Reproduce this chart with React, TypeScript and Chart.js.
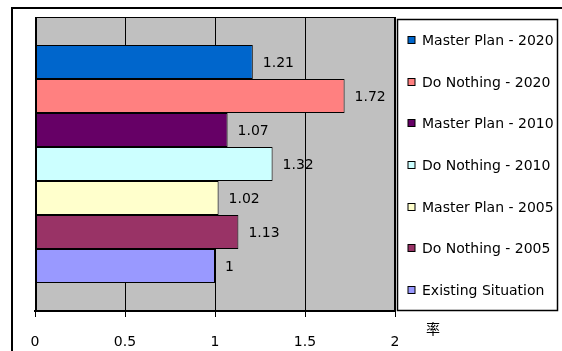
import React, { useEffect, useRef } from "react";
import { Chart, registerables } from "chart.js";

Chart.register(...registerables);

// Scenario bars, listed top to bottom
const categories = [""];
const seriesNames = [
  "Master Plan - 2020",
  "Do Nothing - 2020",
  "Master Plan - 2010",
  "Do Nothing - 2010",
  "Master Plan - 2005",
  "Do Nothing - 2005",
  "Existing Situation",
];
const seriesValues = [1.21, 1.72, 1.07, 1.32, 1.02, 1.13, 1];
const seriesColors = ["#0066CC", "#FF8080", "#660066", "#CCFFFF", "#FFFFCC", "#993366", "#9999FF"];
const xMin = 0;
const xMax = 2;
const xStep = 0.5;
const axisTitle = "率";

const FONT = "'DejaVu Sans', sans-serif";

const framePlugin = {
  id: "frame",
  beforeDraw(chart: any) {
    const { ctx, chartArea: a, width, height } = chart;
    ctx.save();
    ctx.fillStyle = "#FFFFFF";
    ctx.fillRect(0, 0, width, height);
    // outer chart border
    ctx.strokeStyle = "#000000";
    ctx.lineWidth = 2;
    ctx.strokeRect(12, 8, width + 20, height + 20);
    // plot area background
    ctx.fillStyle = "#C0C0C0";
    ctx.fillRect(a.left, a.top, a.right - a.left, a.bottom - a.top);
    ctx.restore();
  },
  afterDraw(chart: any) {
    const { ctx, chartArea: a } = chart;
    ctx.save();
    // plot area border
    ctx.strokeStyle = "#000000";
    ctx.lineWidth = 1;
    ctx.beginPath();
    ctx.moveTo(a.left, a.top + 0.5);
    ctx.lineTo(a.right, a.top + 0.5);
    ctx.stroke();
    ctx.lineWidth = 2;
    ctx.beginPath();
    ctx.moveTo(a.left + 1, a.top);
    ctx.lineTo(a.left + 1, a.bottom);
    ctx.moveTo(a.right, a.top);
    ctx.lineTo(a.right, a.bottom);
    ctx.stroke();

    // value labels beside each bar
    ctx.fillStyle = "#000000";
    ctx.font = `14px ${FONT}`;
    ctx.textBaseline = "middle";
    ctx.textAlign = "left";
    chart.data.datasets.forEach((ds: any, i: number) => {
      const meta = chart.getDatasetMeta(i);
      const el = meta.data[0];
      if (!el) return;
      ctx.fillText(String(ds.data[0]), el.x + 10, el.y + 1);
    });

    // legend box
    const lx = 397.5;
    const ly = 19.5;
    const lw = 160;
    const lh = 291;
    ctx.fillStyle = "#FFFFFF";
    ctx.fillRect(lx, ly, lw, lh);
    ctx.strokeStyle = "#000000";
    ctx.lineWidth = 1.5;
    ctx.strokeRect(lx, ly, lw, lh);
    const step = lh / chart.data.datasets.length;
    chart.data.datasets.forEach((ds: any, i: number) => {
      const cy = Math.round(ly + step * (i + 0.5)) + 0.5;
      ctx.fillStyle = ds.backgroundColor;
      ctx.fillRect(408, cy - 4, 7, 7);
      ctx.lineWidth = 1;
      ctx.strokeStyle = "#000000";
      ctx.strokeRect(408, cy - 4, 7, 7);
      ctx.fillStyle = "#000000";
      ctx.font = `14px ${FONT}`;
      ctx.textBaseline = "middle";
      ctx.fillText(ds.label, 422, cy + 0.5);
    });

    // axis title
    ctx.font = `14px 'Noto Sans CJK SC', sans-serif`;
    ctx.textAlign = "center";
    ctx.fillText(axisTitle, 433, 329);
    ctx.restore();
  },
};

export default function App() {
  const ref = useRef<HTMLCanvasElement>(null);

  useEffect(() => {
    if (!ref.current) return;
    const chart = new Chart(ref.current, {
      type: "bar",
      data: {
        labels: categories,
        datasets: seriesNames.map((name, i) => ({
          label: name,
          data: [seriesValues[i]],
          backgroundColor: seriesColors[i],
          borderColor: "#000000",
          borderWidth: 1,
          borderSkipped: false,
          categoryPercentage: 0.81,
          barPercentage: 1.0,
        })),
      },
      options: {
        indexAxis: "y",
        animation: false,
        responsive: false,
        maintainAspectRatio: false,
        layout: { padding: { left: 35, right: 167, top: 17, bottom: 0 } },
        plugins: {
          legend: { display: false },
          tooltip: { enabled: false },
        },
        scales: {
          x: {
            type: "linear",
            min: xMin,
            max: xMax,
            afterFit(scale: any) {
              scale.height = 40;
            },
            ticks: {
              stepSize: xStep,
              color: "#000000",
              padding: 17,
              maxRotation: 0,
              font: { family: FONT, size: 14 },
              callback: (v: any) => String(Number(v)),
            },
            grid: {
              color: "#000000",
              lineWidth: 1,
              drawTicks: true,
              tickLength: 6,
              tickColor: "#000000",
            },
            border: { display: true, color: "#000000", width: 2 },
          },
          y: {
            display: false,
          },
        },
      },
      plugins: [framePlugin],
    });
    return () => chart.destroy();
  }, []);

  return (
    <div style={{ position: "fixed", left: 0, top: 0, width: 562, height: 351 }}>
      <canvas ref={ref} width={562} height={351} style={{ display: "block" }} />
    </div>
  );
}
